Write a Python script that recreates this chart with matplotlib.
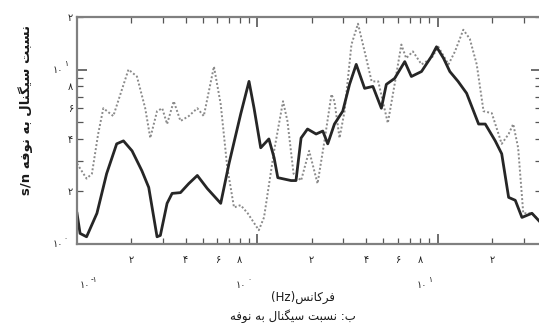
import matplotlib
matplotlib.use("Agg")
import matplotlib.pyplot as plt
from matplotlib.ticker import FixedLocator, FixedFormatter, NullFormatter

plt.rcParams['font.family'] = ['DejaVu Sans']

# frequency (Hz) and signal-to-noise ratio
freq_a = [0.100, 0.104, 0.113, 0.129, 0.146, 0.166, 0.181, 0.202, 0.229, 0.250,
          0.278, 0.290, 0.316, 0.337, 0.375, 0.417, 0.465, 0.528, 0.627, 0.697,
          0.809, 0.900, 0.960, 1.045, 1.16, 1.24, 1.30, 1.54, 1.64, 1.75,
          1.90, 2.12, 2.31, 2.46, 2.68, 2.98, 3.25, 3.54, 3.94, 4.38,
          4.88, 5.20, 5.78, 6.58, 7.16, 8.15, 9.26, 9.87, 10.8, 11.7,
          13.0, 14.5, 16.9, 18.4, 20.9, 22.7, 24.8, 27.0, 29.4, 33.4, 37.5]
snr_a = [1.50, 1.15, 1.10, 1.50, 2.53, 3.75, 3.90, 3.42, 2.63, 2.11,
         1.10, 1.12, 1.71, 1.95, 1.97, 2.22, 2.47, 2.08, 1.71, 2.89,
         5.55, 8.55, 6.00, 3.56, 4.00, 3.12, 2.40, 2.31, 2.31, 4.05,
         4.56, 4.27, 4.44, 3.75, 4.87, 5.77, 8.22, 10.7, 7.80, 8.00,
         6.00, 8.22, 8.89, 11.1, 9.12, 9.74, 11.9, 13.5, 11.6, 9.74,
         8.55, 7.31, 4.87, 4.87, 3.90, 3.29, 1.85, 1.78, 1.42, 1.50, 1.32]

freq_b = [0.100, 0.113, 0.121, 0.131, 0.140, 0.159, 0.174, 0.193, 0.215, 0.239,
          0.255, 0.278, 0.297, 0.316, 0.344, 0.375, 0.417, 0.465, 0.505, 0.575,
          0.627, 0.682, 0.743, 0.809, 0.885, 1.02, 1.09, 1.24, 1.39, 1.47,
          1.59, 1.75, 1.94, 2.16, 2.36, 2.58, 2.68, 2.86, 3.05, 3.33,
          3.62, 3.94, 4.31, 4.69, 5.30, 5.78, 6.30, 6.70, 7.30, 8.15,
          9.26, 10.1, 11.5, 12.5, 13.9, 15.1, 16.5, 18.0, 20.0, 22.7,
          24.8, 26.3, 28.0, 29.9, 33.4, 37.5]
snr_b = [2.89, 2.37, 2.53, 4.27, 6.00, 5.41, 7.21, 10.0, 9.12, 6.00,
         4.05, 5.77, 6.00, 4.87, 6.58, 5.07, 5.41, 6.00, 5.41, 10.4,
         6.32, 2.74, 1.62, 1.67, 1.50, 1.20, 1.42, 3.42, 6.58, 5.07,
         2.53, 2.31, 3.42, 2.22, 3.90, 7.21, 6.58, 4.05, 5.77, 13.9,
         18.3, 12.7, 8.55, 8.55, 4.93, 8.22, 13.9, 11.6, 12.7, 10.7,
         11.6, 13.5, 10.7, 12.7, 16.9, 15.0, 10.7, 5.77, 5.62, 3.75,
         4.27, 4.87, 3.56, 1.50, 1.50, 1.33]

x_minor = [0.2, 0.3, 0.4, 0.5, 0.6, 0.7, 0.8, 0.9,
           2, 3, 4, 5, 6, 7, 8, 9, 20, 30]
x_minor_lbl = ['۲', '', '۴', '', '۶', '', '۸', '',
               '۲', '', '۴', '', '۶', '', '۸', '', '۲', '']
y_minor = [2, 3, 4, 5, 6, 7, 8, 9, 20]
y_minor_lbl = ['۲', '', '۴', '', '۶', '', '۸', '', '۲']

# presentation forms: isolated, final, initial, medial
FORMS = {
    'ا': ('\uFE8D', '\uFE8E', None, None),
    'ب': ('\uFE8F', '\uFE90', '\uFE91', '\uFE92'),
    'ت': ('\uFE95', '\uFE96', '\uFE97', '\uFE98'),
    'ر': ('\uFEAD', '\uFEAE', None, None),
    'س': ('\uFEB1', '\uFEB2', '\uFEB3', '\uFEB4'),
    'ف': ('\uFED1', '\uFED2', '\uFED3', '\uFED4'),
    'ل': ('\uFEDD', '\uFEDE', '\uFEDF', '\uFEE0'),
    'ن': ('\uFEE5', '\uFEE6', '\uFEE7', '\uFEE8'),
    'ه': ('\uFEE9', '\uFEEA', '\uFEEB', '\uFEEC'),
    'و': ('\uFEED', '\uFEEE', None, None),
    'ک': ('\uFB8E', '\uFB8F', '\uFB90', '\uFB91'),
    'گ': ('\uFB92', '\uFB93', '\uFB94', '\uFB95'),
    'ی': ('\uFBFC', '\uFBFD', '\uFBFE', '\uFBFF'),
}


def shape(word):
    # join letters and put them in display (left-to-right) order
    out = []
    for i, ch in enumerate(word):
        if ch not in FORMS:
            out.append(ch)
            continue
        iso, fin, ini, med = FORMS[ch]
        prev = i > 0 and word[i - 1] in FORMS and FORMS[word[i - 1]][2] is not None
        nxt = i < len(word) - 1 and word[i + 1] in FORMS and ini is not None
        if prev and nxt:
            out.append(med)
        elif prev:
            out.append(fin)
        elif nxt:
            out.append(ini)
        else:
            out.append(iso)
    return ''.join(reversed(out))


def rtl(text):
    return ' '.join(shape(w) for w in reversed(text.split()))


fig = plt.figure(figsize=(5.39, 3.23), dpi=100)
ax = fig.add_axes([77 / 539, 1 - 244 / 323, 464 / 539, 227 / 323])

ax.plot(freq_b, snr_b, color='#8a8a8a', lw=1.4, ls=(0, (1, 1.1)))
ax.plot(freq_a, snr_a, color='#262626', lw=2.0, solid_joinstyle='round')

ax.set_xscale('log')
ax.set_yscale('log')
ax.set_xlim(0.1, 37.5)
ax.set_ylim(1, 20)

ax.xaxis.set_major_locator(FixedLocator([0.1, 1, 10]))
ax.xaxis.set_major_formatter(NullFormatter())
ax.xaxis.set_minor_locator(FixedLocator(x_minor))
ax.xaxis.set_minor_formatter(FixedFormatter(x_minor_lbl))
ax.yaxis.set_major_locator(FixedLocator([1, 10]))
ax.yaxis.set_major_formatter(NullFormatter())
ax.yaxis.set_minor_locator(FixedLocator(y_minor))
ax.yaxis.set_minor_formatter(FixedFormatter(y_minor_lbl))

ax.tick_params(which='both', direction='in', top=True, right=True,
               color='#555555', labelsize=7, labelcolor='#222222')
ax.tick_params(which='major', length=7, width=1.2)
ax.tick_params(which='minor', length=4, width=0.9)
ax.tick_params(axis='x', which='both', pad=8)
ax.tick_params(axis='y', which='both', pad=3)
for s in ax.spines.values():
    s.set_color('#808080')
    s.set_linewidth(1.6)


def power_label(x, y, exp, trans):
    ax.annotate('۱۰', (x, y), xycoords=trans, fontsize=7, color='#222222',
                ha='right', va='center', annotation_clip=False)
    ax.annotate(exp, (x, y), xycoords=trans, xytext=(0.5, 4),
                textcoords='offset points', fontsize=5.5, color='#222222',
                ha='left', va='center', annotation_clip=False)


xt = ax.get_xaxis_transform()
yt = ax.get_yaxis_transform()
for f, e in [(0.118, '-۱'), (0.869, '۰'), (8.8, '۱')]:
    power_label(f, -0.18, e, xt)
for v, e in [(1, '۰'), (10, '۱')]:
    power_label(-0.03, v, e, yt)

fig.text(303 / 539, 1 - 297 / 323, '(Hz)' + shape('فرکانس'),
         ha='center', va='center', fontsize=8.5, color='#1a1a1a')
fig.text(293 / 539, 1 - 316 / 323, rtl('ب: نسبت سیگنال به نوفه'),
         ha='center', va='center', fontsize=8.5, color='#1a1a1a')
fig.text(26 / 539, 1 - 110 / 323, 's/n ' + rtl('نسبت سیگنال به نوفه'),
         rotation=90, ha='center', va='center', fontsize=9.5,
         fontweight='bold', color='#1a1a1a')

fig.savefig('out.png', dpi=100)
